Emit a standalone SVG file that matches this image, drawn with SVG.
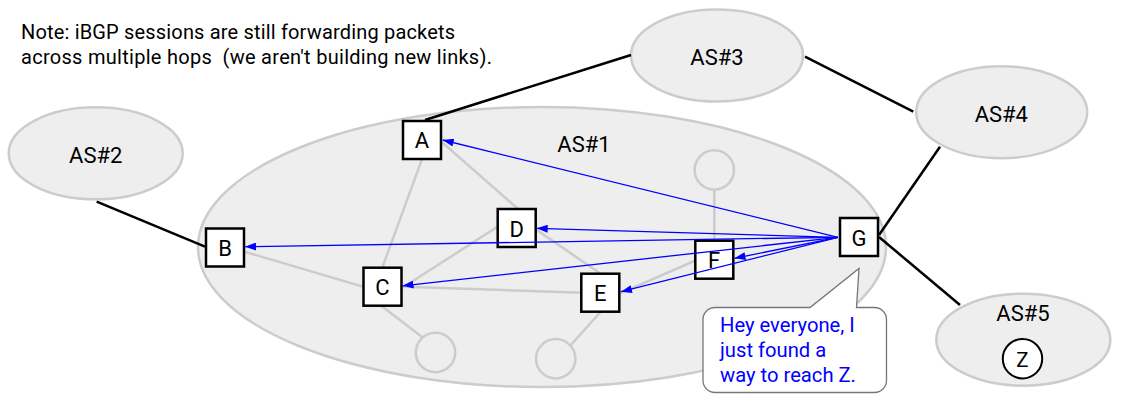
<svg xmlns="http://www.w3.org/2000/svg" width="1130" height="407" viewBox="0 0 1130 407">
<defs>
<style>
.as{fill:#eeeeee;stroke:#cccccc;stroke-width:2.5}
.lbl{font-family:Roboto,"Liberation Sans",sans-serif;font-size:22px;fill:#000;text-anchor:middle}
.nl{font-family:Roboto,"Liberation Sans",sans-serif;font-size:22px;fill:#000;text-anchor:middle}
.box{fill:#fff;stroke:#000;stroke-width:2.5}
.gl{stroke:#cccccc;stroke-width:2.5;fill:none}
.sc{fill:#eeeeee;stroke:#cccccc;stroke-width:2.5}
.bl{stroke:#000;stroke-width:2.5;fill:none}
.ar{stroke:#0000ff;stroke-width:1.3;fill:none;marker-end:url(#ah)}
.note{font-family:Roboto,"Liberation Sans",sans-serif;font-size:20px;fill:#000;white-space:pre}
.bt{font-family:Roboto,"Liberation Sans",sans-serif;font-size:20.2px;fill:#0000ff}
</style>
<marker id="ah" markerUnits="userSpaceOnUse" markerWidth="12" markerHeight="8" refX="11" refY="4" orient="auto">
<path d="M0,0 L11,4 L0,8 Z" fill="#0000ff"/>
</marker>
</defs>
<rect width="1130" height="407" fill="#fff"/>

<g id="note">
<text class="note" x="21" y="39" textLength="434" lengthAdjust="spacing">Note: iBGP sessions are still forwarding packets</text>
<text class="note" x="21" y="64" xml:space="preserve" textLength="471" lengthAdjust="spacing">across multiple hops  (we aren't building new links).</text>
</g>

<g id="as1">
<ellipse class="as" cx="542" cy="247" rx="344" ry="140"/>
<text class="lbl" x="584" y="152.3">AS#1</text>
</g>
<g id="as2">
<ellipse class="as" cx="95.7" cy="153.3" rx="87" ry="46"/>
<text class="lbl" x="95.7" y="163.3">AS#2</text>
</g>
<g id="as3">
<ellipse class="as" cx="717" cy="55.5" rx="86" ry="46"/>
<text class="lbl" x="717" y="65">AS#3</text>
</g>
<g id="as4">
<ellipse class="as" cx="1001.7" cy="112.2" rx="85.5" ry="46"/>
<text class="lbl" x="1001.3" y="122.3">AS#4</text>
</g>
<g id="as5">
<ellipse class="as" cx="1023.3" cy="339.7" rx="87" ry="46"/>
<text class="lbl" x="1023" y="320.7">AS#5</text>
<circle cx="1022.5" cy="358.7" r="19.7" fill="#fff" stroke="#000" stroke-width="2"/>
<text class="nl" x="1022.5" y="366.8" style="font-size:20.5px">Z</text>
</g>

<g id="links">
<line class="bl" x1="425" y1="120" x2="631" y2="55"/>
<line class="bl" x1="805" y1="56.7" x2="913.3" y2="111.7"/>
<line class="bl" x1="940" y1="146.7" x2="879" y2="235"/>
<line class="bl" x1="879" y1="237" x2="960" y2="305"/>
<line class="bl" x1="96.7" y1="201.7" x2="205" y2="246.7"/>
</g>

<g id="internal-links">
<line class="gl" x1="423.5" y1="155" x2="380.7" y2="272"/>
<line class="gl" x1="436" y1="137" x2="525" y2="215"/>
<line class="gl" x1="530" y1="225.4" x2="609.8" y2="280"/>
<line class="gl" x1="500" y1="225.1" x2="395" y2="292.5"/>
<line class="gl" x1="235" y1="248.9" x2="372" y2="289.4"/>
<line class="gl" x1="390" y1="286.3" x2="590" y2="293"/>
<line class="gl" x1="379" y1="304" x2="425" y2="339.3"/>
<line class="gl" x1="605" y1="307" x2="569" y2="347"/>
<line class="gl" x1="714.3" y1="189" x2="714.3" y2="245"/>
<line class="gl" x1="700" y1="258.5" x2="615" y2="295.6"/>
</g>

<g id="r1"><circle class="sc" cx="435.5" cy="352.5" r="19.7"/></g>
<g id="r2"><circle class="sc" cx="555.7" cy="358.7" r="19.7"/></g>
<g id="r3"><circle class="sc" cx="714.3" cy="170" r="19.7"/></g>

<g id="A"><rect class="box" x="403" y="121" width="38" height="38"/><text class="nl" x="422" y="148.3">A</text></g>
<g id="B"><rect class="box" x="206" y="228.5" width="38" height="38"/><text class="nl" x="225" y="256.2">B</text></g>
<g id="C"><rect class="box" x="363.5" y="267.7" width="38" height="38"/><text class="nl" x="382.5" y="295.4">C</text></g>
<g id="D"><rect class="box" x="497.7" y="209" width="38" height="38"/><text class="nl" x="516.7" y="236.7">D</text></g>
<g id="E"><rect class="box" x="581.3" y="273.7" width="38" height="38"/><text class="nl" x="600.3" y="301.4">E</text></g>
<g id="F"><rect class="box" x="695.3" y="240.7" width="38" height="38"/><text class="nl" x="714" y="267.7">F</text></g>
<g id="G"><rect class="box" x="840" y="218" width="38" height="38"/><text class="nl" x="859" y="245.5">G</text></g>

<g id="connectors">
<line class="ar" x1="838" y1="237.3" x2="442.7" y2="140"/>
<line class="ar" x1="838" y1="237.3" x2="536.7" y2="228.3"/>
<line class="ar" x1="838" y1="237.3" x2="245" y2="246.7"/>
<line class="ar" x1="838" y1="237.3" x2="402.5" y2="285.8"/>
<line class="ar" x1="838" y1="237.3" x2="734.5" y2="258.3"/>
<line class="ar" x1="838" y1="237.3" x2="621" y2="291.7"/>
</g>

<g id="bubble">
<path d="M715,307.5 L810,307.5 L859,268.5 L856.5,307.5 L874.5,307.5 A12,12 0 0 1 886.5,319.5 L886.5,380.5 A12,12 0 0 1 874.5,392.5 L715,392.5 A12,12 0 0 1 703,380.5 L703,319.5 A12,12 0 0 1 715,307.5 Z" fill="#fff" stroke="#777" stroke-width="1.3"/>
<text class="bt" x="720" y="331.7">Hey everyone, I</text>
<text class="bt" x="720" y="356.7">just found a</text>
<text class="bt" x="720" y="381.7">way to reach Z.</text>
</g>
</svg>
